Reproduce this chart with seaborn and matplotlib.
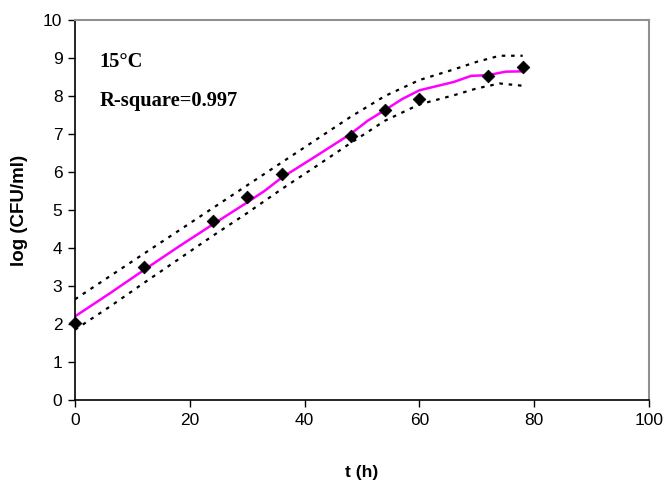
import matplotlib
matplotlib.use("Agg")
import matplotlib.pyplot as plt
import seaborn as sns
import pandas as pd

# Observed data
t_obs = [0, 12, 24, 30, 36, 48, 54, 60, 72, 78]
logc_obs = [2.03, 3.5, 4.71, 5.33, 5.96, 6.96, 7.63, 7.93, 8.52, 8.77]

# Fitted curve
t_fit = [0, 6, 12, 18, 24, 30, 33, 36, 42, 48, 51, 54, 57, 60, 66, 69, 72, 75, 78]
logc_fit = [2.2, 2.8, 3.42, 4.03, 4.62, 5.2, 5.5, 5.85, 6.42, 7.0, 7.35, 7.63, 7.92, 8.15,
            8.37, 8.53, 8.55, 8.64, 8.65]

# Confidence bands
t_band = [0, 6, 12, 18, 24, 30, 36, 42, 48, 54, 60, 66, 70, 74, 78]
upper_band = [2.65, 3.25, 3.85, 4.45, 5.05, 5.65, 6.25, 6.85, 7.45, 8.0, 8.42, 8.7, 8.9, 9.06, 9.06]
lower_band = [1.85, 2.45, 3.08, 3.7, 4.32, 4.92, 5.55, 6.15, 6.76, 7.35, 7.78, 8.02, 8.2, 8.33, 8.27]

sns.set_style("white")
plt.rcParams['font.family'] = ['Liberation Sans', 'DejaVu Sans']
plt.rcParams['text.color'] = 'black'
plt.rcParams['axes.labelcolor'] = 'black'
plt.rcParams['xtick.color'] = 'black'
plt.rcParams['ytick.color'] = 'black'

fig = plt.figure(figsize=(6.67, 4.93), dpi=100)
ax = fig.add_axes([0.1124, 0.1886, 0.973 - 0.1124, 0.9594 - 0.1886])

band_df = pd.DataFrame({"t": t_band, "up": upper_band, "lo": lower_band})
fit_df = pd.DataFrame({"t": t_fit, "y": logc_fit})
obs_df = pd.DataFrame({"t": t_obs, "y": logc_obs})

sns.lineplot(data=band_df, x="t", y="up", ax=ax, color="black", lw=1.6,
             linestyle=(0, (1.6, 2.6)), estimator=None, sort=False)
sns.lineplot(data=band_df, x="t", y="lo", ax=ax, color="black", lw=1.6,
             linestyle=(0, (1.6, 2.6)), estimator=None, sort=False)
sns.lineplot(data=fit_df, x="t", y="y", ax=ax, color="#ff00ff", lw=1.8,
             estimator=None, sort=False)
sns.scatterplot(data=obs_df, x="t", y="y", ax=ax, marker="D", s=42,
                color="black", edgecolor="black", zorder=5, clip_on=False)

ax.set_xlim(0, 100)
ax.set_ylim(0, 10)
ax.set_xticks(range(0, 101, 20))
ax.set_yticks(range(0, 11, 1))
ax.tick_params(axis="both", which="major", labelsize=12.5, direction="out",
               length=5, width=1, color="black", labelcolor="black", pad=4,
               bottom=True, left=True)

for side in ["left", "bottom"]:
    ax.spines[side].set_color("black")
    ax.spines[side].set_linewidth(1.2)
for side in ["top", "right"]:
    ax.spines[side].set_visible(True)
    ax.spines[side].set_color("#909090")
    ax.spines[side].set_linewidth(1.5)

ax.set_xlabel("t (h)", fontsize=12.5, fontweight="bold", labelpad=27, color="black")
ax.set_ylabel("log (CFU/ml)", fontsize=13.5, fontweight="bold", labelpad=11, color="black")

ax.text(4.3, 8.9, "15°C", fontsize=14.8, fontweight="bold",
        family=["Liberation Serif", "DejaVu Serif"], va="center", ha="left", color="black")
ax.text(4.3, 7.88, "R-square=0.997", fontsize=14.8, fontweight="bold",
        family=["Liberation Serif", "DejaVu Serif"], va="center", ha="left", color="black")

fig.savefig("out.png", dpi=100)
